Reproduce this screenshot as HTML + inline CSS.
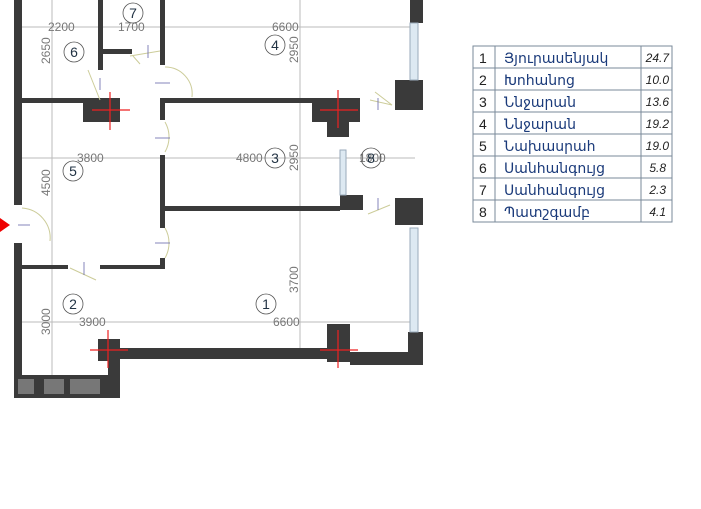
<!DOCTYPE html>
<html><head><meta charset="utf-8"><style>
body{margin:0;background:#fff;width:701px;height:504px;overflow:hidden;font-family:"Liberation Sans","DejaVu Sans",sans-serif}
</style></head><body>
<svg width="701" height="504" xmlns="http://www.w3.org/2000/svg" font-family="Liberation Sans, DejaVu Sans, sans-serif">
<rect width="701" height="504" fill="#fff"/>
<!-- dimension lines -->
<g stroke="#bbb" stroke-width="1">
<line x1="20" y1="27" x2="415" y2="27"/>
<line x1="20" y1="158" x2="415" y2="158"/>
<line x1="20" y1="322" x2="415" y2="322"/>
<line x1="52" y1="0" x2="52" y2="375"/>
<line x1="300" y1="0" x2="300" y2="348"/>
</g>
<!-- walls -->
<g fill="#3a3a3a">
<rect x="14" y="0" width="8" height="205"/>
<rect x="14" y="243" width="8" height="155"/>
<rect x="98" y="0" width="5" height="70"/>
<rect x="160" y="0" width="5" height="65"/>
<rect x="102" y="49" width="30" height="5"/>
<rect x="20" y="98" width="65" height="5"/>
<rect x="83" y="98" width="37" height="24"/>
<rect x="160" y="98" width="5" height="22"/>
<rect x="160" y="98" width="155" height="5"/>
<rect x="312" y="98" width="48" height="24"/>
<rect x="327" y="122" width="22" height="15"/>
<rect x="410" y="0" width="13" height="23"/>
<rect x="395" y="80" width="28" height="30"/>
<rect x="160" y="155" width="5" height="73"/>
<rect x="160" y="206" width="180" height="5"/>
<rect x="340" y="195" width="23" height="15"/>
<rect x="395" y="198" width="28" height="27"/>
<rect x="160" y="258" width="5" height="10"/>
<rect x="20" y="265" width="48" height="4"/>
<rect x="100" y="265" width="65" height="4"/>
<rect x="408" y="332" width="15" height="33"/>
<rect x="120" y="348" width="208" height="11"/>
<rect x="98" y="339" width="22" height="22"/>
<rect x="327" y="324" width="23" height="38"/>
<rect x="350" y="352" width="73" height="13"/>
<rect x="14" y="375" width="106" height="23"/>
<rect x="108" y="355" width="12" height="43"/>
</g>
<g fill="#777"><rect x="18" y="379" width="16" height="15"/><rect x="44" y="379" width="20" height="15"/><rect x="70" y="379" width="30" height="15"/></g>
<!-- windows -->
<g fill="#dde9f2" stroke="#9ab"><rect x="410" y="23" width="8" height="57"/><rect x="340" y="150" width="6" height="45"/><rect x="410" y="228" width="8" height="104"/></g>
<!-- doors -->
<g fill="none" stroke="#cc9" stroke-width="1">
<path d="M165 67 A27 27 0 0 1 192 97"/><path d="M165 122 A30 30 0 0 1 165 152"/><path d="M165 228 A30 30 0 0 1 165 258"/>
<path d="M22 208 A30 30 0 0 1 50 241"/><path d="M130 56 L160 51 M133 56 L140 64"/><path d="M88 70 L100 100"/>
<path d="M370 100 L392 105 L375 92"/><path d="M70 268 L96 280"/><path d="M368 214 L390 205"/></g>
<g stroke="#66a" stroke-width="0.8"><line x1="155" y1="83" x2="170" y2="83"/><line x1="155" y1="138" x2="170" y2="138"/><line x1="155" y1="243" x2="170" y2="243"/><line x1="148" y1="45" x2="148" y2="58"/><line x1="100" y1="78" x2="100" y2="90"/><line x1="18" y1="225" x2="30" y2="225"/><line x1="84" y1="262" x2="84" y2="275"/><line x1="378" y1="98" x2="378" y2="110"/><line x1="378" y1="198" x2="378" y2="210"/></g>
<!-- red crosses -->
<g stroke="#e22" stroke-width="1.2"><line x1="110" y1="92" x2="110" y2="130"/><line x1="92" y1="110" x2="130" y2="110"/><line x1="338" y1="90" x2="338" y2="128"/><line x1="320" y1="110" x2="358" y2="110"/><line x1="108" y1="330" x2="108" y2="368"/><line x1="90" y1="350" x2="128" y2="350"/><line x1="338" y1="330" x2="338" y2="368"/><line x1="320" y1="350" x2="358" y2="350"/></g>
<polygon points="0,218 10,225 0,232" fill="#e00"/>
<!-- dim text -->
<g fill="#777" font-size="12">
<text x="48" y="31">2200</text><text x="118" y="31">1700</text><text x="272" y="31">6600</text>
<text x="77" y="162">3800</text><text x="236" y="162">4800</text><text x="359" y="162">1800</text>
<text x="79" y="326">3900</text><text x="273" y="326">6600</text>
<text transform="translate(50,64) rotate(-90)">2650</text><text transform="translate(50,196) rotate(-90)">4500</text><text transform="translate(50,335) rotate(-90)">3000</text>
<text transform="translate(298,63) rotate(-90)">2950</text><text transform="translate(298,171) rotate(-90)">2950</text><text transform="translate(298,293) rotate(-90)">3700</text>
</g>
<g fill="none" stroke="#555" stroke-width="0.8"><circle cx="133" cy="13" r="10"/><circle cx="74" cy="52" r="10"/><circle cx="275" cy="45" r="10"/><circle cx="73" cy="171" r="10"/><circle cx="275" cy="158" r="10"/><circle cx="371" cy="158" r="10"/><circle cx="73" cy="304" r="10"/><circle cx="266" cy="304" r="10"/></g>
<g fill="#234" font-size="14" text-anchor="middle"><text x="133" y="18">7</text><text x="74" y="57">6</text><text x="275" y="50">4</text><text x="73" y="176">5</text><text x="275" y="163">3</text><text x="371" y="163">8</text><text x="73" y="309">2</text><text x="266" y="309">1</text></g>
<!-- table -->
<g stroke="#7a8a9a" stroke-width="1" fill="none"><rect x="473" y="46" width="199" height="176"/>
<line x1="495" y1="46" x2="495" y2="222"/><line x1="641" y1="46" x2="641" y2="222"/>
<line x1="473" y1="68" x2="672" y2="68"/><line x1="473" y1="90" x2="672" y2="90"/><line x1="473" y1="112" x2="672" y2="112"/><line x1="473" y1="134" x2="672" y2="134"/><line x1="473" y1="156" x2="672" y2="156"/><line x1="473" y1="178" x2="672" y2="178"/><line x1="473" y1="200" x2="672" y2="200"/></g>
<g fill="#222" font-size="14">
<text x="479" y="63">1</text><text x="479" y="85">2</text><text x="479" y="107">3</text><text x="479" y="129">4</text><text x="479" y="151">5</text><text x="479" y="173">6</text><text x="479" y="195">7</text><text x="479" y="217">8</text>
<g fill="#1a3a7a"><text x="504" y="63">Յյուրասենյակ</text><text x="504" y="85">Խոհանոց</text><text x="504" y="107">Ննջարան</text><text x="504" y="129">Ննջարան</text><text x="504" y="151">Նախասրահ</text><text x="504" y="173">Սանհանգույց</text><text x="504" y="195">Սանհանգույց</text><text x="504" y="217">Պատշգամբ</text></g>
<g font-size="12" font-style="italic" text-anchor="end"><text x="669" y="62">24.7</text><text x="669" y="84">10.0</text><text x="669" y="106">13.6</text><text x="669" y="128">19.2</text><text x="669" y="150">19.0</text><text x="666" y="172">5.8</text><text x="666" y="194">2.3</text><text x="666" y="216">4.1</text></g>
</g>
</svg>
</body></html>
